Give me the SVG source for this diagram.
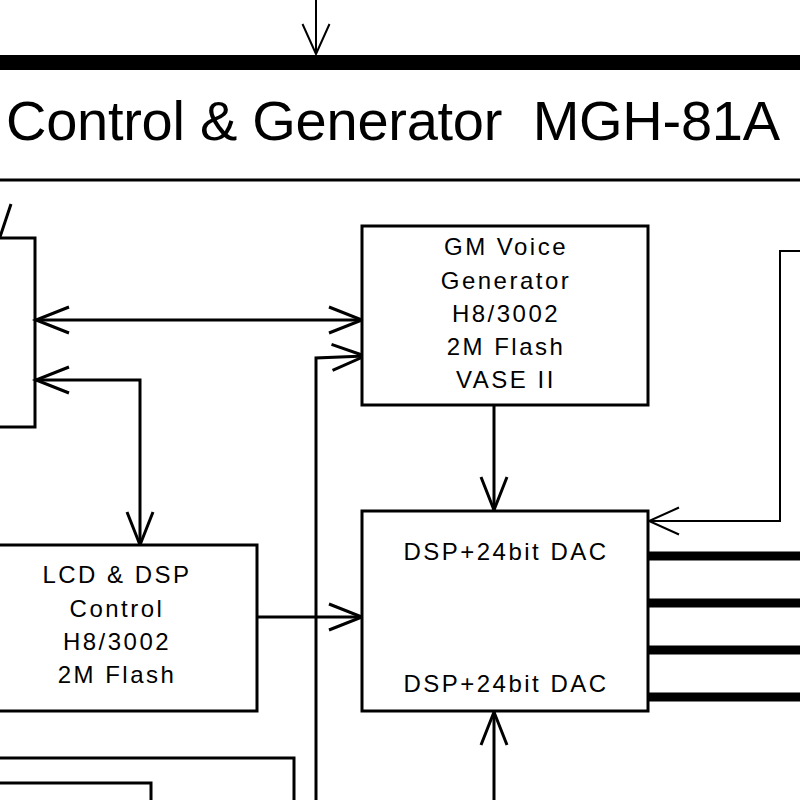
<svg xmlns="http://www.w3.org/2000/svg" width="800" height="800" viewBox="0 0 800 800">
<style>
.box{fill:#fff;stroke:#000;stroke-width:3}
.ln{fill:none;stroke:#000;stroke-width:3}
.thin{fill:none;stroke:#000;stroke-width:2}
.bus{fill:none;stroke:#000;stroke-width:9}
.lbl{font-family:"Liberation Sans",Arial,Helvetica,sans-serif;font-size:24px;letter-spacing:2.5px;text-anchor:middle;fill:#000}
.title{font-family:"Liberation Sans",Arial,Helvetica,sans-serif;font-size:56px;fill:#000;white-space:pre}
</style>
<defs>
<marker id="ah" markerUnits="userSpaceOnUse" viewBox="-40 -20 44 40" markerWidth="44" markerHeight="40" refX="0" refY="0" orient="auto-start-reverse" overflow="visible">
<path d="M-33,-13 L0,0 L-33,13" fill="none" stroke="#000" stroke-width="3"/>
</marker>
<marker id="ahThin" markerUnits="userSpaceOnUse" viewBox="-40 -20 44 40" markerWidth="44" markerHeight="40" refX="0" refY="0" orient="auto-start-reverse" overflow="visible">
<path d="M-30,-13.5 L0,0 L-30,13.5" fill="none" stroke="#000" stroke-width="2"/>
</marker>
</defs>
<rect width="800" height="800" fill="#fff"/>

<g id="header">
<rect x="-5" y="55" width="810" height="15" fill="#000"/>
<text class="title" x="6" y="140" textLength="774" lengthAdjust="spacing" xml:space="preserve">Control &amp; Generator  MGH-81A</text>
<line x1="-5" y1="180" x2="805" y2="180" class="ln"/>
</g>

<g id="connectors">
<path class="thin" d="M316,0 V54" marker-end="url(#ahThin)"/>
<path class="ln" d="M0,237 L11,204"/>
<path class="ln" d="M36,320 H362" marker-start="url(#ah)" marker-end="url(#ah)"/>
<path class="ln" d="M140,545 V380 H36" marker-start="url(#ah)" marker-end="url(#ah)"/>
<path class="ln" d="M316,805 V358 L365,356" marker-end="url(#ah)"/>
<path class="ln" d="M494,405 V510" marker-end="url(#ah)"/>
<path class="thin" d="M805,251 H780 V521 H649" marker-end="url(#ahThin)"/>
<path class="ln" d="M257,617 H362" marker-end="url(#ah)"/>
<path class="ln" d="M494,805 V712" marker-end="url(#ah)"/>
<path class="bus" d="M648,556 H805 M648,603 H805 M648,650 H805 M648,697 H805"/>
<path class="ln" d="M-5,758 H294 V805"/>
<path class="ln" d="M-5,783 H151 V805"/>
</g>

<g id="left-box">
<path class="ln" d="M-5,238 H35 V427 H-5"/>
</g>

<g id="gm-voice">
<rect class="box" x="362" y="226" width="286" height="179"/>
<text class="lbl" x="506" y="255">GM Voice</text>
<text class="lbl" x="506" y="289">Generator</text>
<text class="lbl" x="506" y="322">H8/3002</text>
<text class="lbl" x="506" y="355">2M Flash</text>
<text class="lbl" x="506" y="388">VASE II</text>
</g>

<g id="lcd-dsp">
<path class="box" d="M-5,545 H257 V711 H-5 Z"/>
<text class="lbl" x="117" y="583">LCD &amp; DSP</text>
<text class="lbl" x="117" y="617">Control</text>
<text class="lbl" x="117" y="650">H8/3002</text>
<text class="lbl" x="117" y="683">2M Flash</text>
</g>

<g id="dsp-dac">
<rect class="box" x="362" y="511" width="286" height="200"/>
<text class="lbl" x="506" y="560">DSP+24bit DAC</text>
<text class="lbl" x="506" y="692">DSP+24bit DAC</text>
</g>
</svg>
